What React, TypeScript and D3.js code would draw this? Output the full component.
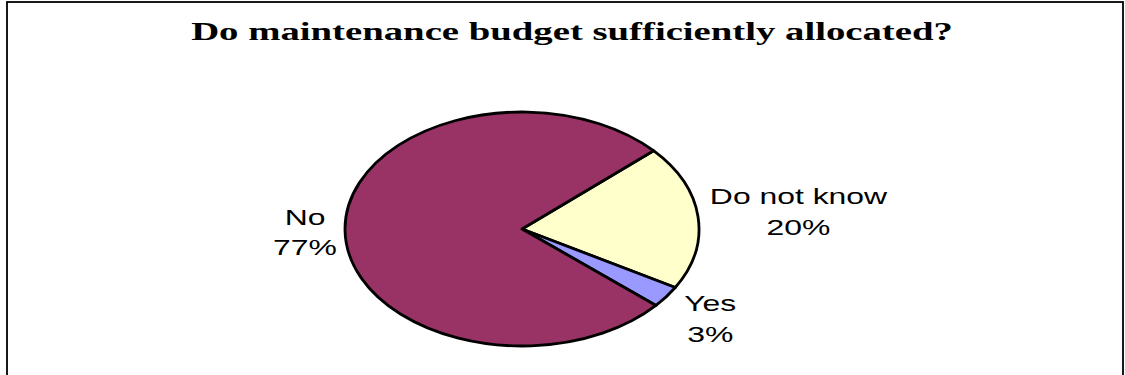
import React from "react";
import * as d3 from "d3";

const categories = ["Do not know", "Yes", "No"];
const values = [20, 3, 77];
const colors = ["#FFFFCC", "#9999FF", "#993366"];
const labelTexts = ["Do not know", "Yes", "No"];
const percentLabels = ["20%", "3%", "77%"];
const title = "Do maintenance budget sufficiently allocated?";

const W = 1125;
const H = 375;

export default function App() {
  const cx = 522;
  const cy = 229;
  const rx = 177;
  const ry = 117;
  const sy = ry / rx;
  const start = (48 * Math.PI) / 180;
  const pie = d3
    .pie<number>()
    .sort(null)
    .startAngle(start)
    .endAngle(start + 2 * Math.PI);
  const arcs = pie(values);
  const arc = d3.arc<d3.PieArcDatum<number>>().innerRadius(0).outerRadius(rx);
  const sx = 1.45;
  const labelOffsets = [101, 54, 40];

  const labelPos = arcs.map((a, i) => {
    const mid = (a.startAngle + a.endAngle) / 2;
    const dist = rx + labelOffsets[i];
    const x = cx + Math.sin(mid) * dist;
    const y = cy - Math.cos(mid) * dist * sy;
    return [x, y];
  });

  return (
    <svg
      width={W}
      height={H}
      style={{ position: "absolute", left: 0, top: 0, background: "#fff" }}
    >
      <rect x={7} y={2} width={1116} height={420} fill="#fff" stroke="#000" strokeWidth={1.8} />
      <g transform={`translate(572,40) scale(1.55,1)`}>
        <text
          x={0}
          y={0}
          textAnchor="middle"
          fontFamily="'Liberation Serif', 'Times New Roman', serif"
          fontWeight="bold"
          fontSize={25}
          fill="#000"
        >
          {title}
        </text>
      </g>
      <g transform={`translate(${cx},${cy}) scale(1,${sy})`}>
        {arcs.map((a, i) => (
          <path
            key={categories[i]}
            d={arc(a) || ""}
            fill={colors[i]}
            stroke="#000"
            strokeWidth={2.8}
            vectorEffect="non-scaling-stroke"
            strokeLinejoin="round"
          />
        ))}
      </g>
      {labelPos.map(([x, y], i) => (
        <g key={categories[i]} transform={`translate(${x},${y}) scale(${sx},1)`}>
          <text
            textAnchor="middle"
            fontFamily="'Liberation Sans', Arial, sans-serif"
            fontSize={22}
            fill="#000"
          >
            <tspan x={0} y={-6}>{labelTexts[i]}</tspan>
            <tspan x={0} y={25}>{percentLabels[i]}</tspan>
          </text>
        </g>
      ))}
    </svg>
  );
}
